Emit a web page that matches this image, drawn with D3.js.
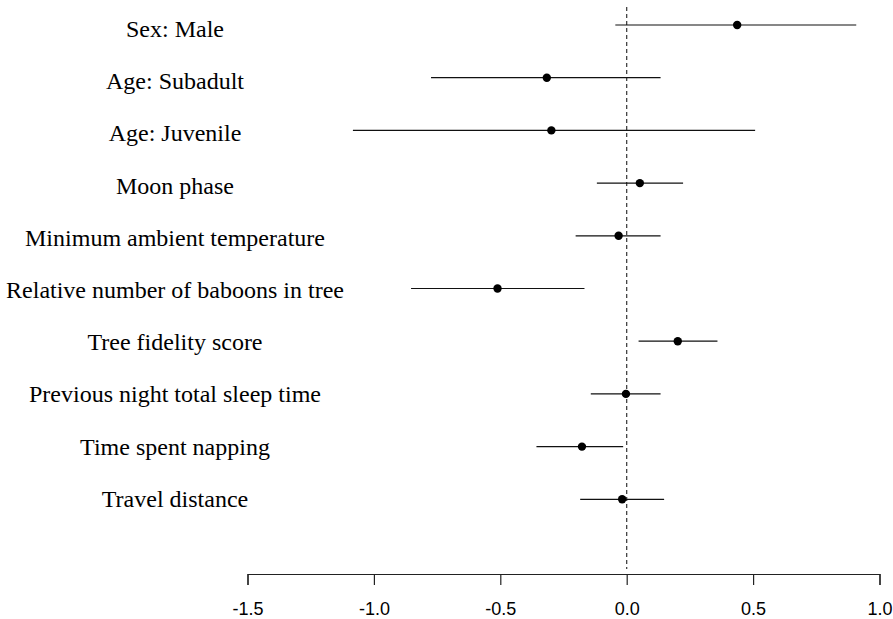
<!DOCTYPE html>
<html>
<head>
<meta charset="utf-8">
<script src="https://cdn.jsdelivr.net/npm/d3@7"></script>
<style>
  html, body { margin: 0; padding: 0; background: #fff; }
  svg { display: block; }
</style>
</head>
<body>
<svg id="chart" width="893" height="619"></svg>
<script>
const labels = [
  "Sex: Male",
  "Age: Subadult",
  "Age: Juvenile",
  "Moon phase",
  "Minimum ambient temperature",
  "Relative number of baboons in tree",
  "Tree fidelity score",
  "Previous night total sleep time",
  "Time spent napping",
  "Travel distance"
];
const estimate = [0.437, -0.316, -0.298, 0.052, -0.032, -0.511, 0.202, -0.003, -0.177, -0.018];
const lower    = [-0.045, -0.774, -1.083, -0.118, -0.202, -0.853, 0.047, -0.142, -0.357, -0.184];
const upper    = [0.908, 0.134, 0.508, 0.223, 0.134, -0.167, 0.359, 0.134, -0.014, 0.148];
const xTicks = [-1.5, -1.0, -0.5, 0.0, 0.5, 1.0];
const refValue = 0;

const svg = d3.select("#chart");

const x = d3.scaleLinear().domain([-1.5, 1.0]).range([247.5, 879.5]);
const y = d3.scaleLinear().domain([0, labels.length - 1]).range([25, 499.3]);
const yLabel = d3.scaleLinear().domain([0, labels.length - 1]).range([37, 506.7]);

// reference dashed line
svg.append("line")
  .attr("x1", x(refValue)).attr("x2", x(refValue))
  .attr("y1", 7).attr("y2", 569)
  .attr("stroke", "#333").attr("stroke-width", 1.2)
  .attr("stroke-dasharray", "4,3");

const rows = labels.map((l, i) => ({ label: l, est: estimate[i], lo: lower[i], hi: upper[i], i }));

// intervals
svg.selectAll("line.ci").data(rows).enter().append("line")
  .attr("class", "ci")
  .attr("x1", d => x(d.lo)).attr("x2", d => x(d.hi))
  .attr("y1", d => y(d.i)).attr("y2", d => y(d.i))
  .attr("stroke", "#111").attr("stroke-width", 1.2);

// points
svg.selectAll("circle.pt").data(rows).enter().append("circle")
  .attr("class", "pt")
  .attr("cx", d => x(d.est)).attr("cy", d => y(d.i))
  .attr("r", 4.2).attr("fill", "#000");

// labels
svg.selectAll("text.lab").data(rows).enter().append("text")
  .attr("class", "lab")
  .attr("x", 175).attr("y", d => yLabel(d.i))
  .attr("text-anchor", "middle")
  .attr("font-family", "'Liberation Serif', 'Times New Roman', serif")
  .attr("font-size", 24)
  .attr("fill", "#000")
  .text(d => d.label);

// x axis
const axis = d3.axisBottom(x)
  .tickValues(xTicks)
  .tickFormat(d => d.toFixed(1))
  .tickSizeOuter(0)
  .tickSize(11)
  .tickPadding(17);

const g = svg.append("g").attr("transform", "translate(0,574)").call(axis);
g.select(".domain").attr("stroke", "#222").attr("stroke-width", 1.2);
g.selectAll(".tick line").attr("stroke", "#222").attr("stroke-width", 1.2);
g.selectAll(".tick text")
  .attr("font-family", "'Liberation Sans', Arial, sans-serif")
  .attr("font-size", 18)
  .attr("fill", "#000");
</script>
</body>
</html>
